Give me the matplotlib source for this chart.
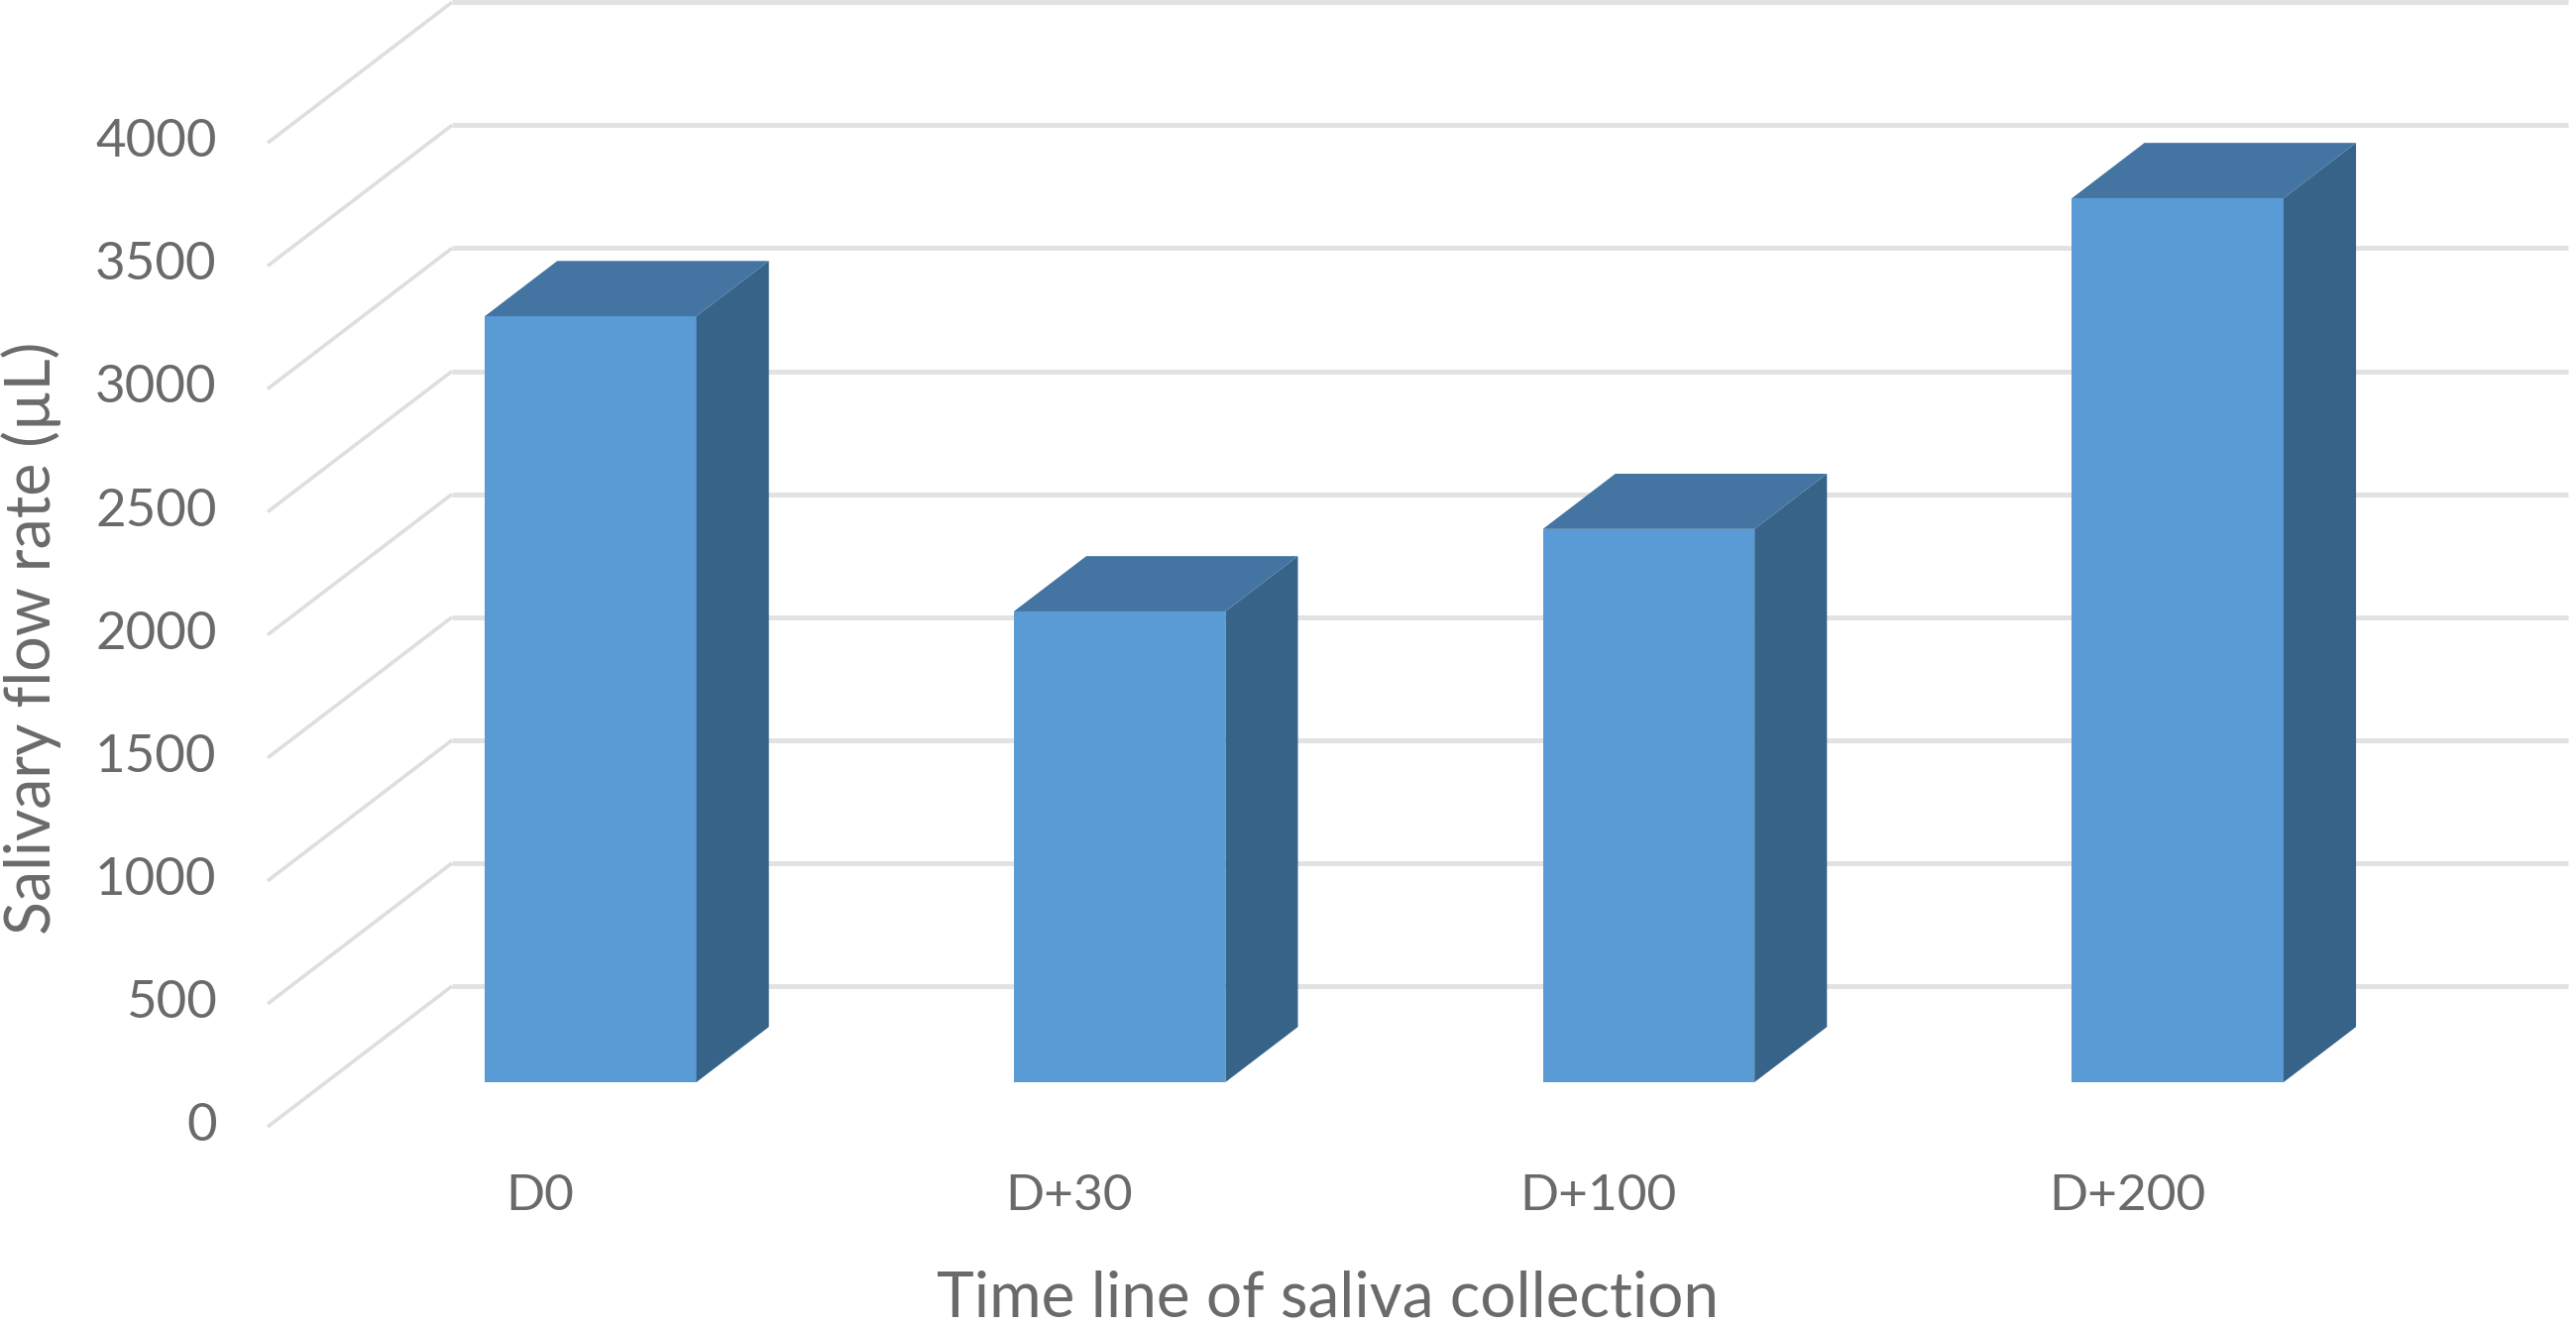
from matplotlib import pyplot as plt
from matplotlib.patches import Polygon
from matplotlib.transforms import ScaledTranslation

categories = ['D0', 'D+30', 'D+100', 'D+200']
values = [3114, 1914, 2249, 3594]
y_ticks = [0, 500, 1000, 1500, 2000, 2500, 3000, 3500, 4000]

W, H = 2599, 1339
# oblique depth of the floor, in data units
DEPTH_X = 0.3485
DEPTH_Y = 572
BAR_WIDTH = 0.4
BAR_D0, BAR_D1 = 0.317, 0.71


def project(x, y, d):
    return x + d * DEPTH_X, y + d * DEPTH_Y


def draw_bar(ax, i, value):
    left, right = i - BAR_WIDTH / 2, i + BAR_WIDTH / 2
    fl = project(left, 0, BAR_D0)
    fr = project(right, 0, BAR_D0)
    tl = project(left, value, BAR_D0)
    tr = project(right, value, BAR_D0)
    br = project(right, 0, BAR_D1)
    btr = project(right, value, BAR_D1)
    btl = project(left, value, BAR_D1)
    ax.add_patch(Polygon([fl, fr, tr, tl], fc='#5B9BD5', ec='none', zorder=3, clip_on=False))
    ax.add_patch(Polygon([fr, br, btr, tr], fc='#376388', ec='none', zorder=3, clip_on=False))
    ax.add_patch(Polygon([tl, tr, btr, btl], fc='#4474A1', ec='none', zorder=3, clip_on=False))


def main() -> None:
    plt.rcParams['font.family'] = ['Lato', 'DejaVu Sans']
    fig = plt.figure(figsize=(W / 100, H / 100), dpi=100)
    ax = fig.add_axes([270 / W, (H - 1137) / H, 2323 / W, 1134 / H])
    ax.set_xlim(-0.5, 3.852)
    ax.set_ylim(0, 4569)
    for spine in ax.spines.values():
        spine.set_visible(False)

    for v in y_ticks:
        back_l = project(-0.5, v, 1)
        back_r = project(3.5, v, 1)
        ax.plot([-0.5, back_l[0]], [v, back_l[1]], color='#dedede', lw=2.6, zorder=1,
                clip_on=False, solid_capstyle='butt')
        ax.plot([back_l[0], back_r[0]], [back_l[1], back_r[1]], color='#e2e2e2', lw=3.6, zorder=1,
                clip_on=False, solid_capstyle='butt')

    for i, value in enumerate(values):
        draw_bar(ax, i, value)

    ax.set_xticks(range(len(categories)), labels=categories)
    ax.set_yticks(y_ticks, labels=[str(v) for v in y_ticks])
    ax.tick_params(axis='x', length=0, pad=34, labelsize=37, labelcolor='#6a6a6a')
    ax.tick_params(axis='y', length=0, pad=37, labelsize=38, labelcolor='#6a6a6a')
    shift_x = ScaledTranslation(8 / 100, 0, fig.dpi_scale_trans)
    for label in ax.get_xticklabels():
        label.set_transform(label.get_transform() + shift_x)
    shift_y = ScaledTranslation(0, 5 / 100, fig.dpi_scale_trans)
    for label in ax.get_yticklabels():
        label.set_transform(label.get_transform() + shift_y)

    ax.set_xlabel('Time line of saliva collection', fontsize=46, color='#6a6a6a', va='bottom')
    ax.xaxis.set_label_coords(0.4606, -0.1785)
    ax.set_ylabel('Salivary flow rate (µL)', fontsize=45, color='#6a6a6a', va='center')
    ax.yaxis.set_label_coords(-0.1025, 0.4345)

    plt.savefig('out.png', dpi=100, facecolor='white')


if __name__ == '__main__':
    main()
